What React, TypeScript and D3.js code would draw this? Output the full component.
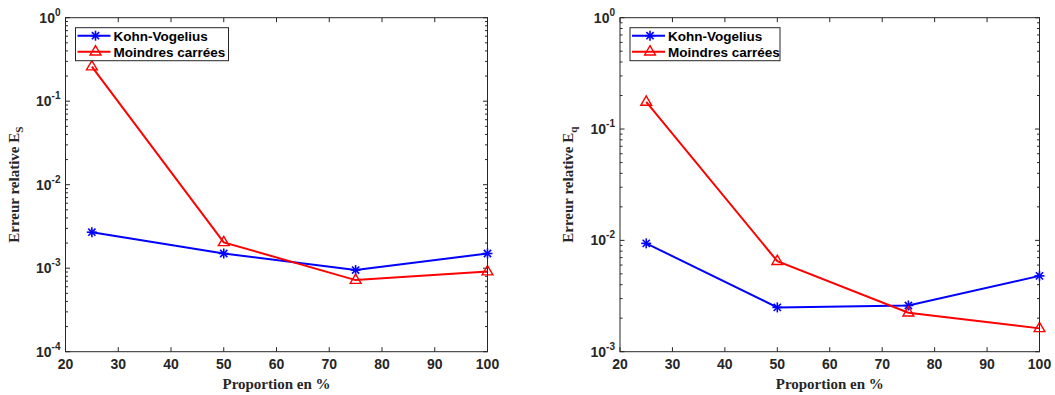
import React from "react";
import * as d3 from "d3";

const proportions = [25, 50, 75, 100];
const kvS = [2.7e-3, 1.5e-3, 9.5e-4, 1.5e-3];
const mcS = [0.26, 2.04e-3, 7.2e-4, 9.1e-4];
const kvQ = [9.4e-3, 2.5e-3, 2.6e-3, 4.8e-3];
const mcQ = [0.175, 6.5e-3, 2.24e-3, 1.62e-3];
const xTicks = [20, 30, 40, 50, 60, 70, 80, 90, 100];
const legendLabels = ["Kohn-Vogelius", "Moindres carrées"];

const AX = "#262626";
const sansBold = "'Liberation Sans', Arial, sans-serif";
const serif = "'Liberation Serif', 'Times New Roman', serif";

function Star({ x, y, color }: { x: number; y: number; color: string }) {
  const r = 5;
  const d = r * 0.72;
  return (
    <g stroke={color} strokeWidth={1.6}>
      <line x1={x - r} y1={y} x2={x + r} y2={y} />
      <line x1={x} y1={y - r} x2={x} y2={y + r} />
      <line x1={x - d} y1={y - d} x2={x + d} y2={y + d} />
      <line x1={x - d} y1={y + d} x2={x + d} y2={y - d} />
    </g>
  );
}

function Tri({ x, y, color }: { x: number; y: number; color: string }) {
  const r = 6;
  return (
    <path
      d={`M${x},${y - r} L${x + r * 0.9},${y + r * 0.55} L${x - r * 0.9},${y + r * 0.55} Z`}
      fill="none"
      stroke={color}
      strokeWidth={1.4}
    />
  );
}

function Panel({
  left, right, top, bottom, yMinExp, kv, mc, sub, legendW,
}: {
  left: number; right: number; top: number; bottom: number; yMinExp: number;
  kv: number[]; mc: number[]; sub: string; legendW: number;
}) {
  const x = d3.scaleLinear().domain([20, 100]).range([left, right]);
  const y = d3.scaleLog().domain([Math.pow(10, yMinExp), 1]).range([bottom, top]);
  const majors: number[] = [];
  const minors: number[] = [];
  for (let e = yMinExp; e <= 0; e++) {
    majors.push(e);
    if (e < 0) for (let m = 2; m <= 9; m++) minors.push(m * Math.pow(10, e));
  }
  const line = d3
    .line<number>()
    .x((_, i) => x(proportions[i]))
    .y((v) => y(v));
  const lx = left + 10;
  const ly = top + 10;
  return (
    <g>
      <rect x={left} y={top} width={right - left} height={bottom - top} fill="white" />
      {/* x ticks */}
      {xTicks.map((t) => (
        <g key={"xt" + t}>
          <line x1={x(t)} x2={x(t)} y1={bottom} y2={bottom - 4.5} stroke={AX} strokeWidth={1} />
          <line x1={x(t)} x2={x(t)} y1={top} y2={top + 4.5} stroke={AX} strokeWidth={1} />
          <text
            x={x(t)}
            y={bottom + 17}
            textAnchor="middle"
            fontFamily={sansBold}
            fontWeight="bold"
            fontSize={14}
            fill={AX}
          >
            {t}
          </text>
        </g>
      ))}
      {majors.map((e) => (
        <g key={"yt" + e}>
          <line x1={left} x2={left + 4.5} y1={y(Math.pow(10, e))} y2={y(Math.pow(10, e))} stroke={AX} />
          <line x1={right} x2={right - 4.5} y1={y(Math.pow(10, e))} y2={y(Math.pow(10, e))} stroke={AX} />
          <text
            x={left - 5}
            y={y(Math.pow(10, e)) + 5}
            textAnchor="end"
            fontFamily={sansBold}
            fontWeight="bold"
            fontSize={14}
            fill={AX}
          >
            10
            <tspan dy={-7} fontSize={10}>
              {String(e)}
            </tspan>
          </text>
        </g>
      ))}
      {minors.map((v, i) => (
        <g key={"ym" + i}>
          <line x1={left} x2={left + 2.5} y1={y(v)} y2={y(v)} stroke={AX} />
          <line x1={right} x2={right - 2.5} y1={y(v)} y2={y(v)} stroke={AX} />
        </g>
      ))}
      <path d={line(kv) || ""} fill="none" stroke="#0000ff" strokeWidth={2} />
      <path d={line(mc) || ""} fill="none" stroke="#ff0000" strokeWidth={2} />
      {kv.map((v, i) => (
        <Star key={"s" + i} x={x(proportions[i])} y={y(v)} color="#0000ff" />
      ))}
      {mc.map((v, i) => (
        <Tri key={"t" + i} x={x(proportions[i])} y={y(v)} color="#ff0000" />
      ))}
      <rect x={left} y={top} width={right - left} height={bottom - top} fill="none" stroke={AX} strokeWidth={1} />
      {/* legend */}
      <rect x={lx} y={ly} width={legendW} height={33} fill="white" stroke={AX} strokeWidth={1} />
      <line x1={lx + 2} x2={lx + 35} y1={ly + 8} y2={ly + 8} stroke="#0000ff" strokeWidth={2} />
      <Star x={lx + 20} y={ly + 8} color="#0000ff" />
      <text x={lx + 38} y={ly + 13} fontFamily={sansBold} fontWeight="bold" fontSize={13.5} fill="black">
        {legendLabels[0]}
      </text>
      <line x1={lx + 2} x2={lx + 35} y1={ly + 24} y2={ly + 24} stroke="#ff0000" strokeWidth={2} />
      <Tri x={lx + 20} y={ly + 24} color="#ff0000" />
      <text x={lx + 38} y={ly + 29} fontFamily={sansBold} fontWeight="bold" fontSize={13.5} fill="black">
        {legendLabels[1]}
      </text>
      {/* axis labels */}
      <text
        x={(left + right) / 2}
        y={bottom + 37}
        textAnchor="middle"
        fontFamily={serif}
        fontWeight="bold"
        fontSize={15}
        fill={AX}
      >
        Proportion en %
      </text>
      <text
        transform={`translate(${left - 47},${(top + bottom) / 2}) rotate(-90)`}
        textAnchor="middle"
        fontFamily={serif}
        fontWeight="bold"
        fontSize={15}
        fill={AX}
      >
        Erreur relative E
        <tspan dy={4} fontSize={11}>
          {sub}
        </tspan>
      </text>
    </g>
  );
}

export default function App() {
  return (
    <svg
      width={1055}
      height={395}
      style={{ position: "absolute", left: 0, top: 0, background: "white" }}
    >
      <rect width={1055} height={395} fill="white" />
      <Panel left={65.5} right={487.5} top={17.7} bottom={351.7} yMinExp={-4} kv={kvS} mc={mcS} sub="S" legendW={153} />
      <Panel left={620} right={1039.5} top={17.7} bottom={351.7} yMinExp={-3} kv={kvQ} mc={mcQ} sub="q" legendW={150} />
    </svg>
  );
}
